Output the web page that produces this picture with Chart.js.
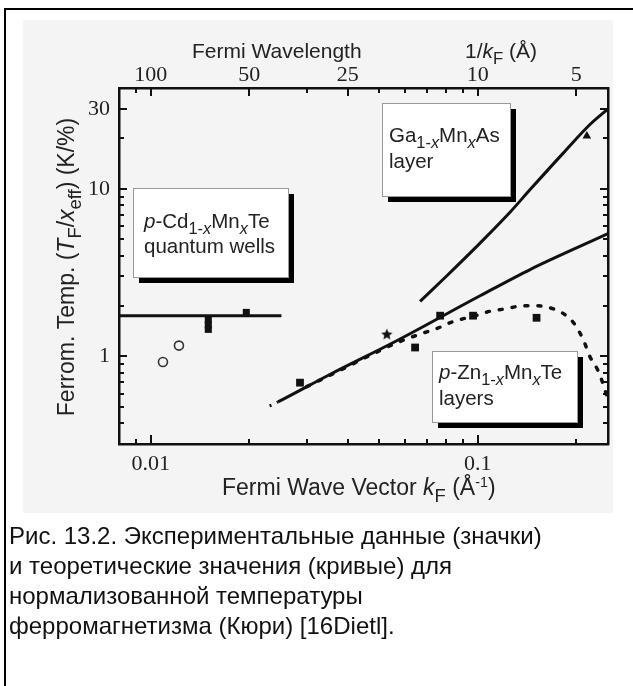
<!DOCTYPE html>
<html>
<head>
<meta charset="utf-8">
<script src="https://cdn.jsdelivr.net/npm/chart.js@4.4.0/dist/chart.umd.min.js"></script>
<style>
    html, body { margin: 0; padding: 0; background: #fff; width: 633px; height: 686px; overflow: hidden; }
    #frame { position: absolute; left: 4px; top: 8px; width: 700px; height: 700px; border: 2px solid #000; }
    #fig { position: absolute; left: 23px; top: 20px; width: 590px; height: 493px; background: #f4f4f4; }
    #wrap { position: absolute; left: 0; top: 0; }
    #caption { position: absolute; left: 9px; top: 521px; font-family: "Liberation Sans", Arial, sans-serif;
               font-size: 24px; line-height: 30px; color: #111; white-space: nowrap; }
</style>
</head>
<body>
<div id="frame"></div>
<div id="fig"></div>
<div id="wrap"><canvas id="myChart" width="633" height="686"></canvas></div>
<div id="caption">Рис. 13.2. Экспериментальные данные (значки)<br>и теоретические значения (кривые) для<br>нормализованной температуры<br>ферромагнетизма (Кюри) [16Dietl].</div>
<script>
// kF in 1/Å, T in K/%
const cdLineK = [0.008, 0.0251];
const cdLineT = [1.75, 1.75];
const cdSquareK = [0.015, 0.015, 0.015, 0.0196];
const cdSquareT = [1.65, 1.54, 1.45, 1.83];
const cdCircleK = [0.0109, 0.0122];
const cdCircleT = [0.925, 1.16];

const gaCurveK = [0.0666, 0.08, 0.1, 0.125, 0.1445, 0.1827, 0.2206, 0.25];
const gaCurveT = [2.13, 3.0, 4.6, 7.2, 9.9, 16.4, 24.3, 30];
const gaTriangleK = [0.2154];
const gaTriangleT = [20.7];

const znLineK = [0.0231, 0.0245, 0.0353, 0.0565, 0.1016, 0.1445, 0.25];
const znLineT = [0.506, 0.535, 0.78, 1.24, 2.3, 3.3, 5.4];
const znDotK = [0.03, 0.04, 0.05, 0.058, 0.0682, 0.0758, 0.0823, 0.0904, 0.0993, 0.109, 0.121, 0.1331, 0.148, 0.1625, 0.181, 0.196, 0.21, 0.22, 0.2318, 0.24, 0.25];
const znDotT = [0.66, 0.87, 1.08, 1.23, 1.38, 1.48, 1.59, 1.68, 1.76, 1.86, 1.92, 1.99, 2.01, 1.97, 1.82, 1.59, 1.26, 1.0, 0.84, 0.71, 0.55];
const znSquareK = [0.0286, 0.0643, 0.0767, 0.0967, 0.1512];
const znSquareT = [0.697, 1.13, 1.75, 1.75, 1.70];
const znStarK = [0.0527];
const znStarT = [1.35];

// axes
const kTicks = [0.009, 0.01, 0.02, 0.03, 0.04, 0.05, 0.06, 0.07, 0.08, 0.09, 0.1, 0.2];
const kLabels = [0.01, 0.1];
const lambdaLabels = [100, 50, 25, 10, 5];
const tTicks = [0.4, 0.5, 0.6, 0.7, 0.8, 0.9, 1, 2, 3, 4, 5, 6, 7, 8, 9, 10, 20, 30];
const tLabels = [1, 10, 30];

const ink = '#111';
const serif = '"Liberation Serif", "Times New Roman", serif';
const sans = '"Liberation Sans", Arial, sans-serif';

const pts = (ks, ts) => ks.map((k, i) => ({ x: k, y: ts[i] }));
const near = (a, b) => Math.abs(a - b) < 1e-9;
const lambdaOf = (v) => lambdaLabels.find(l => near(1 / l, v));

function makeStar(r) {
    const c = document.createElement('canvas');
    c.width = c.height = 2 * r + 2;
    const g = c.getContext('2d');
    g.fillStyle = ink;
    g.beginPath();
    for (let i = 0; i < 10; i++) {
        const a = -Math.PI / 2 + i * Math.PI / 5;
        const rr = i % 2 ? r * 0.45 : r;
        g.lineTo(r + 1 + rr * Math.cos(a), r + 1 + rr * Math.sin(a));
    }
    g.closePath();
    g.fill();
    return c;
}

// text with italics / subscripts / superscripts
function runSize(r, size) {
    return r.sup ? size * 0.62 : (r.sub ? size * 0.8 : size);
}
function runs(ctx, x, y, list, size) {
    list.forEach(r => {
        ctx.font = (r.it ? 'italic ' : '') + runSize(r, size) + 'px ' + sans;
        const dy = r.sub ? size * 0.3 : (r.sup ? -size * 0.36 : 0);
        ctx.fillText(r.t, x, y + dy);
        x += ctx.measureText(r.t).width;
    });
    return x;
}
function runsWidth(ctx, list, size) {
    let w = 0;
    list.forEach(r => {
        ctx.font = (r.it ? 'italic ' : '') + runSize(r, size) + 'px ' + sans;
        w += ctx.measureText(r.t).width;
    });
    return w;
}

const insideTicks = {
    id: 'insideTicks',
    afterDatasetsDraw(chart) {
        const { ctx, chartArea: a, scales } = chart;
        ctx.save();
        ctx.strokeStyle = ink;
        ctx.lineWidth = 2;
        ctx.beginPath();
        kTicks.forEach(v => {
            const x = Math.round(scales.x.getPixelForValue(v));
            const lb = kLabels.some(k => near(k, v)) ? 9 : 5;
            const lt = lambdaOf(v) ? 8 : 5;
            ctx.moveTo(x, a.bottom); ctx.lineTo(x, a.bottom - lb);
            ctx.moveTo(x, a.top); ctx.lineTo(x, a.top + lt);
        });
        tTicks.forEach(v => {
            const y = Math.round(scales.y.getPixelForValue(v));
            const l = tLabels.includes(v) ? 8 : 5;
            ctx.moveTo(a.left, y); ctx.lineTo(a.left + l, y);
            ctx.moveTo(a.right, y); ctx.lineTo(a.right - l, y);
        });
        ctx.stroke();
        ctx.restore();
    }
};

const notes = {
    id: 'notes',
    afterDatasetsDraw(chart) {
        const { ctx } = chart;
        ctx.save();
        ctx.textBaseline = 'alphabetic';

        // shadowed boxes
        const boxes = [
            { x: 133, y: 188, w: 155, h: 89, lines: [
                [[{ t: 'p', it: true }, { t: '-Cd' }, { t: '1-', sub: true }, { t: 'x', sub: true, it: true }, { t: 'Mn' }, { t: 'x', sub: true, it: true }, { t: 'Te' }], 144, 228],
                [[{ t: 'quantum wells' }], 144, 253]] },
            { x: 382, y: 103, w: 128, h: 93, lines: [
                [[{ t: 'Ga' }, { t: '1-', sub: true }, { t: 'x', sub: true, it: true }, { t: 'Mn' }, { t: 'x', sub: true, it: true }, { t: 'As' }], 389, 142],
                [[{ t: 'layer' }], 389, 168]] },
            { x: 432, y: 351, w: 145, h: 71, lines: [
                [[{ t: 'p', it: true }, { t: '-Zn' }, { t: '1-', sub: true }, { t: 'x', sub: true, it: true }, { t: 'Mn' }, { t: 'x', sub: true, it: true }, { t: 'Te' }], 439, 379],
                [[{ t: 'layers' }], 439, 405]] }
        ];
        boxes.forEach(b => {
            ctx.fillStyle = '#000';
            ctx.fillRect(b.x + 6, b.y + 6, b.w, b.h);
            ctx.fillStyle = '#fff';
            ctx.fillRect(b.x, b.y, b.w, b.h);
            ctx.strokeStyle = '#999';
            ctx.lineWidth = 1;
            ctx.strokeRect(b.x + 0.5, b.y + 0.5, b.w, b.h);
            ctx.fillStyle = '#222';
            b.lines.forEach(([list, x, y]) => runs(ctx, x, y, list, 20.5));
        });

        // axis titles
        ctx.fillStyle = '#222';
        runs(ctx, 192, 58, [{ t: 'Fermi Wavelength' }], 21);
        runs(ctx, 465, 58, [{ t: '1/' }, { t: 'k', it: true }, { t: 'F', sub: true }, { t: ' (Å)' }], 21);
        runs(ctx, 222, 495, [{ t: 'Fermi Wave Vector ' }, { t: 'k', it: true }, { t: 'F', sub: true }, { t: ' (Å' }, { t: '-1', sup: true }, { t: ')' }], 23);

        const yTitle = [{ t: 'Ferrom. Temp. (' }, { t: 'T', it: true }, { t: 'F', sub: true }, { t: '/' }, { t: 'x', it: true }, { t: 'eff', sub: true }, { t: ') (K/%)' }];
        const w = runsWidth(ctx, yTitle, 23);
        ctx.translate(74, 267);
        ctx.rotate(-Math.PI / 2);
        runs(ctx, -w / 2, 0, yTitle, 23);
        ctx.restore();
    }
};

const ctx = document.getElementById('myChart').getContext('2d');

const logAxis = (pos, min, max) => ({
    type: 'logarithmic',
    position: pos,
    min: min,
    max: max,
    grid: { display: false, drawTicks: false },
    border: { display: true, color: ink, width: 2.5 },
});

const myChart = new Chart(ctx, {
    type: 'scatter',
    data: {
        datasets: [
            { data: pts(cdLineK, cdLineT), showLine: true, pointRadius: 0, borderColor: ink, borderWidth: 3 },
            { data: pts(gaCurveK, gaCurveT), showLine: true, pointRadius: 0, borderColor: ink, borderWidth: 3, cubicInterpolationMode: 'monotone' },
            {
                data: pts(znLineK, znLineT), showLine: true, pointRadius: 0, borderColor: ink, borderWidth: 3, cubicInterpolationMode: 'monotone',
                segment: { borderDash: (c) => c.p0DataIndex === 0 ? [2, 6] : undefined }
            },
            { data: pts(znDotK, znDotT), showLine: true, pointRadius: 0, borderColor: ink, borderWidth: 3.5, borderDash: [3, 10], borderCapStyle: 'round', cubicInterpolationMode: 'monotone' },
            { data: pts(cdSquareK, cdSquareT), pointStyle: 'rect', pointRadius: 5, backgroundColor: ink, borderColor: ink, borderWidth: 0 },
            { data: pts(znSquareK, znSquareT), pointStyle: 'rect', pointRadius: 5.5, backgroundColor: ink, borderColor: ink, borderWidth: 0 },
            { data: pts(cdCircleK, cdCircleT), pointStyle: 'circle', pointRadius: 4.5, backgroundColor: 'rgba(0,0,0,0)', borderColor: '#333', borderWidth: 1.6 },
            { data: pts(gaTriangleK, gaTriangleT), pointStyle: 'triangle', pointRadius: 5, backgroundColor: ink, borderColor: ink, borderWidth: 0 },
            { data: pts(znStarK, znStarT), pointStyle: makeStar(6), backgroundColor: ink, borderColor: ink }
        ]
    },
    options: {
        responsive: false,
        animation: false,
        layout: { padding: 0 },
        plugins: {
            legend: { display: false },
            tooltip: { enabled: false }
        },
        scales: {
            x: {
                ...logAxis('bottom', 0.008, 0.25),
                afterFit: (s) => { s.height = 242; },
                afterBuildTicks: (s) => { s.ticks = kTicks.map(v => ({ value: v })); },
                ticks: {
                    autoSkip: false, maxRotation: 0, padding: 7, color: '#222',
                    font: { family: serif, size: 22 },
                    callback: (v) => kLabels.some(k => near(k, v)) ? String(v) : ''
                }
            },
            xTop: {
                ...logAxis('top', 0.008, 0.25),
                axis: 'x',
                afterFit: (s) => { s.height = 88; },
                afterBuildTicks: (s) => { s.ticks = kTicks.map(v => ({ value: v })); },
                ticks: {
                    autoSkip: false, maxRotation: 0, padding: 0, color: '#222',
                    font: { family: serif, size: 22 },
                    callback: (v) => { const l = lambdaOf(v); return l ? String(l) : ''; }
                }
            },
            y: {
                ...logAxis('left', 0.3, 40),
                afterFit: (s) => { s.width = 119; },
                afterBuildTicks: (s) => { s.ticks = tTicks.map(v => ({ value: v })); },
                ticks: {
                    autoSkip: false, padding: 9, color: '#222',
                    font: { family: serif, size: 22 },
                    callback: (v) => tLabels.includes(v) ? String(v) : ''
                }
            },
            yRight: {
                ...logAxis('right', 0.3, 40),
                axis: 'y',
                afterFit: (s) => { s.width = 25; },
                afterBuildTicks: (s) => { s.ticks = tTicks.map(v => ({ value: v })); },
                ticks: { display: false }
            }
        }
    },
    plugins: [insideTicks, notes]
});
</script>
</body>
</html>
